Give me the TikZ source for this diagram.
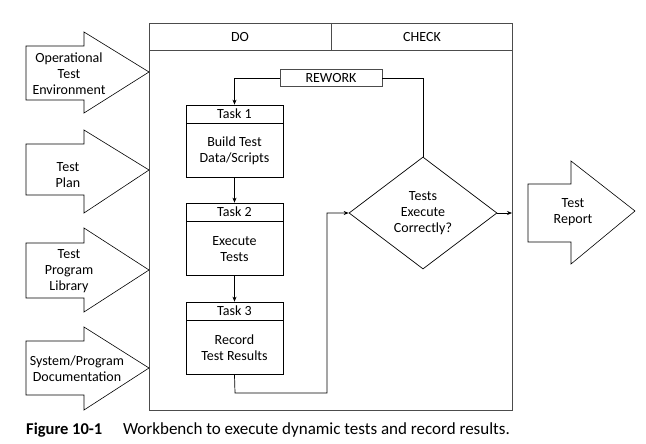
\documentclass[tikz,border=0pt]{standalone}
\usepackage{fontspec}
\setmainfont{Carlito}
\usetikzlibrary{shapes.geometric,arrows.meta}
\begin{document}
\begin{tikzpicture}[x=1pt,y=-1pt,
  font=\fontsize{14}{16}\selectfont,
  frame/.style={draw=black!70,line width=0.9pt},
  ln/.style={draw=black,line width=0.7pt},
  arr/.style={ln,-{Stealth[length=5pt,width=4pt]}},
  lbl/.style={align=center,inner sep=0pt},
  taskhead/.style={draw=black,line width=0.7pt,minimum width=97pt,minimum height=18pt,inner sep=0pt},
  taskbody/.style={draw=black,line width=0.7pt,minimum width=97pt,minimum height=54pt,inner sep=0pt,align=center},
  bigarrow/.style={draw=black,line width=0.6pt,fill=white}
]
\useasboundingbox (0,0) rectangle (646,444);
% main frame
\draw[frame] (149,23) rectangle (512,410);
\draw[frame] (149,50) -- (512,50);
\draw[frame] (331,23) -- (331,50);
\node[lbl] (do) at (240,37) {DO};
\node[lbl] (check) at (422,37) {CHECK};

% input arrows
\draw[bigarrow] (26,46) -- (84,46) -- (84,32) -- (149,72) -- (84,113) -- (84,100) -- (26,100) -- cycle;
\node[lbl] (env) at (69,74) {Operational\\Test\\Environment};
\draw[bigarrow] (26,144) -- (84,144) -- (84,130) -- (149,170) -- (84,213) -- (84,195) -- (26,195) -- cycle;
\node[lbl] (plan) at (68,175) {Test\\Plan};
\draw[bigarrow] (26,243) -- (84,243) -- (84,228) -- (149,270) -- (84,312) -- (84,298) -- (26,298) -- cycle;
\node[lbl] (lib) at (69,271) {Test\\Program\\Library};
\draw[bigarrow] (26,341) -- (84,341) -- (84,327) -- (149,368) -- (84,410) -- (84,395) -- (26,395) -- cycle;
\node[lbl] (doc) at (77,369) {System/Program\\Documentation};

% output arrow
\draw[bigarrow] (528,184) -- (571,184) -- (571,161) -- (635,211) -- (571,264) -- (571,242) -- (528,242) -- cycle;
\node[lbl] (rep) at (573,212) {Test\\Report};

% tasks
\node[taskhead] (t1h) at (234.5,114) {Task 1};
\node[taskbody,anchor=north] (t1) at (t1h.south) {Build Test\\Data/Scripts};
\node[taskhead] (t2h) at (234.5,212) {Task 2};
\node[taskbody,anchor=north] (t2) at (t2h.south) {Execute\\Tests};
\node[taskhead] (t3h) at (234.5,311) {Task 3};
\node[taskbody,anchor=north] (t3) at (t3h.south) {Record\\Test Results};

% rework
\node[draw=black!70,line width=0.9pt,minimum width=102pt,minimum height=17pt,inner sep=0pt] (rw) at (331,78) {REWORK};

% decision
\node[diamond,draw=black,line width=0.7pt,minimum width=148pt,minimum height=112pt,aspect=1.32,inner sep=0pt,align=center] (dec) at (423,213) {Tests\\Execute\\Correctly?};

\coordinate (c1) at (235,393);
\coordinate (c2) at (327,393);
\coordinate (c3) at (423,78);
\coordinate (out) at (512,213);

\draw[arr] (t1.south) -- (t2h.north);
\draw[arr] (t2.south) -- (t3h.north);
\draw[arr] (t3.south) -- (c1) -- (c2) |- (dec.west);
\draw[ln] (dec.north) -- (c3) -- (rw.east);
\draw[arr] (rw.west) -| (t1h.north);
\draw[arr] (dec.east) -- (out);

% caption
\node[anchor=base west,inner sep=0pt,font=\fontsize{16.5}{18}\selectfont\bfseries] (figno) at (26,434) {Figure 10-1};
\node[anchor=base east,inner sep=0pt,font=\fontsize{17}{19}\selectfont] (cap) at (510,434) {Workbench to execute dynamic tests and record results.};
\end{tikzpicture}
\end{document}
